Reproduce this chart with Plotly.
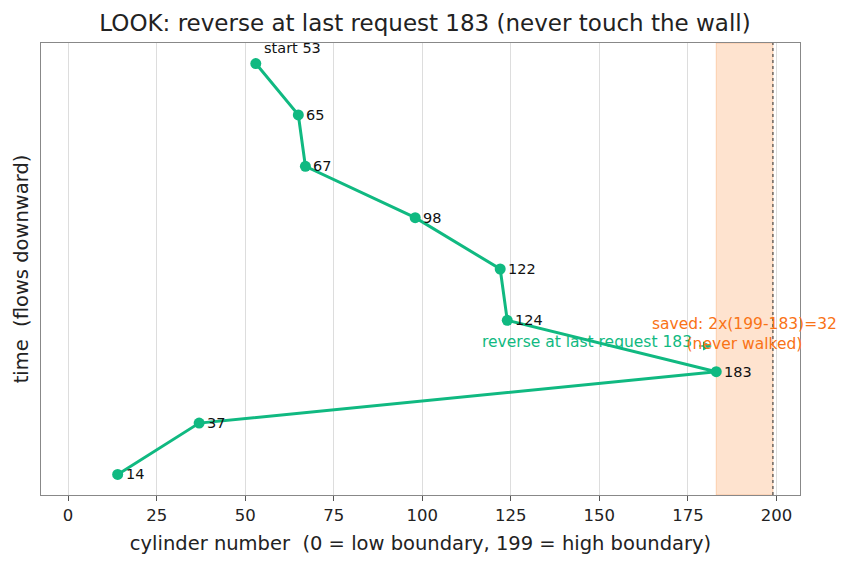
import plotly.graph_objects as go

requests = [53, 65, 67, 98, 122, 124, 183, 37, 14]
steps = list(range(len(requests)))
labels = ["start 53"] + [str(r) for r in requests[1:]]
x_ticks = [0, 25, 50, 75, 100, 125, 150, 175, 200]
saved_lo, saved_hi = 183, 199

GREEN = "#10b981"
ORANGE = "#f97316"
FONT = "DejaVu Sans"

fig = go.Figure()

# shaded never-walked region
fig.add_shape(type="rect", xref="x", yref="paper", x0=saved_lo, x1=saved_hi, y0=0, y1=1,
              fillcolor="rgba(253,200,160,0.5)", line=dict(color="rgba(249,115,22,0.25)", width=1),
              layer="below")
fig.add_shape(type="line", xref="x", yref="paper", x0=saved_hi, x1=saved_hi, y0=0, y1=1,
              line=dict(color="#555555", width=1.3, dash="dot"))

fig.add_trace(go.Scatter(
    x=requests, y=steps, mode="lines+markers",
    line=dict(color=GREEN, width=3),
    marker=dict(color=GREEN, size=11),
    showlegend=False, hoverinfo="skip"))

for i, (x, y, t) in enumerate(zip(requests, steps, labels)):
    if i == 0:
        fig.add_annotation(x=x, y=y, text=t, showarrow=False, xanchor="left", yanchor="bottom",
                           xshift=6, yshift=6, font=dict(family=FONT, size=14.5, color="#111"))
    else:
        fig.add_annotation(x=x, y=y, text=t, showarrow=False, xanchor="left", yanchor="middle",
                           xshift=6, font=dict(family=FONT, size=14.5, color="#111"))

# green arrow annotation
fig.add_annotation(x=181.8, y=5.5, ax=177.8, ay=5.5, axref="x", ayref="y",
                   text="", showarrow=True, arrowhead=2, arrowsize=1.2, arrowwidth=1.5,
                   arrowcolor=GREEN)
fig.add_annotation(x=176.6, y=5.42, text="reverse at last request 183", showarrow=False,
                   xanchor="right", yanchor="middle",
                   font=dict(family=FONT, size=15.5, color=GREEN))
fig.add_annotation(x=191, y=5.27, text="saved: 2x(199-183)=32<br>(never walked)", showarrow=False,
                   xanchor="center", yanchor="middle",
                   font=dict(family=FONT, size=15.5, color=ORANGE))

fig.update_layout(
    width=850, height=569,
    margin=dict(l=41, r=50, t=43, b=74),
    paper_bgcolor="white", plot_bgcolor="white",
    font=dict(family=FONT, size=16.5, color="#222"),
    title=dict(text="LOOK: reverse at last request 183 (never touch the wall)",
               x=0.5, xanchor="center", y=0.96, yanchor="middle",
               font=dict(family=FONT, size=23, color="#222")),
    xaxis=dict(range=[-7.65, 206.65], tickvals=x_ticks, ticktext=[str(t) for t in x_ticks],
               showgrid=True, gridcolor="#dddddd", gridwidth=1,
               ticks="outside", ticklen=5, tickcolor="#555",
               showline=True, linecolor="#888", linewidth=1.2, mirror=True, zeroline=False,
               tickfont=dict(size=16.5),
               title=dict(text="cylinder number  (0 = low boundary, 199 = high boundary)",
                          font=dict(size=19.5), standoff=12)),
    yaxis=dict(range=[8.4, -0.4], showticklabels=False, ticks="", showgrid=False,
               showline=True, linecolor="#888", linewidth=1.2, mirror=True, zeroline=False,
               title=dict(text="time  (flows downward)", font=dict(size=19.5), standoff=6)),
)

fig.write_html("out.html")
